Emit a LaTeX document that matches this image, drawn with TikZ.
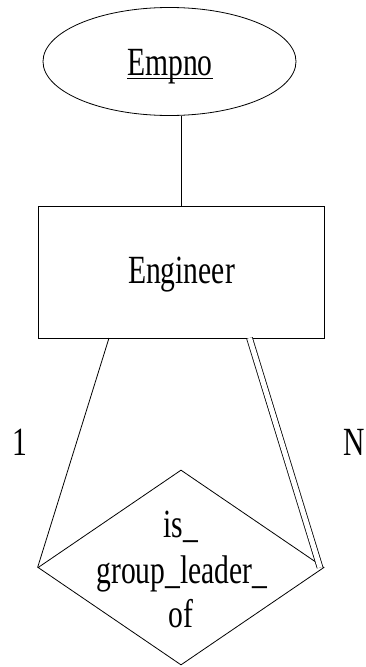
\documentclass[tikz,border=0pt]{standalone}
\usepackage{fontspec}
\setmainfont[FakeStretch=0.74]{Liberation Serif}
\usetikzlibrary{shapes.geometric}
\begin{document}
\begin{tikzpicture}[x=1pt,y=-1pt,
  every node/.style={font=\fontsize{40}{45}\selectfont},
  ln/.style={draw=black,line width=0.8pt},
  attr/.style={ln,ellipse,minimum width=253pt,minimum height=108pt,inner sep=0pt},
  ent/.style={ln,rectangle,minimum width=286pt,minimum height=132pt,inner sep=0pt},
  rel/.style={ln,diamond,minimum width=286pt,minimum height=195pt,inner sep=0pt},
  lbl/.style={inner sep=0pt,anchor=base}]
\useasboundingbox (0,0) rectangle (365,667);
\node[attr] (empno) at (169.5,61.5) {};
\node[lbl] (empnotxt) at (170,75) {Empno};
\node[ent] (eng) at (181,272) {};
\node[lbl] (engtxt) at (181.5,283) {Engineer};
\node[rel] (leader) at (181,567.5) {};
\node[lbl] (t1) at (181,537) {is\_};
\node[lbl] (t2) at (182,583) {group\_leader\_};
\node[lbl] (t3) at (181,627) {of};
\node[lbl] (one) at (20,455) {1};
\node[lbl] (many) at (354,455) {N};
\coordinate (eL) at (109,338);
\coordinate (eR) at (249.5,338);
\coordinate (dR) at (320,567.5);
\draw[line width=0.7pt] ([yshift=-3.5pt]empnotxt.base west) -- ([yshift=-3.5pt]empnotxt.base east);
\draw[ln] (empno.south -| eng.north) -- (eng.north);
\draw[ln] (eL) -- (leader.west);
\draw[line width=0.8pt,double,double distance=5pt] (eR) -- (dR);
\end{tikzpicture}
\end{document}
